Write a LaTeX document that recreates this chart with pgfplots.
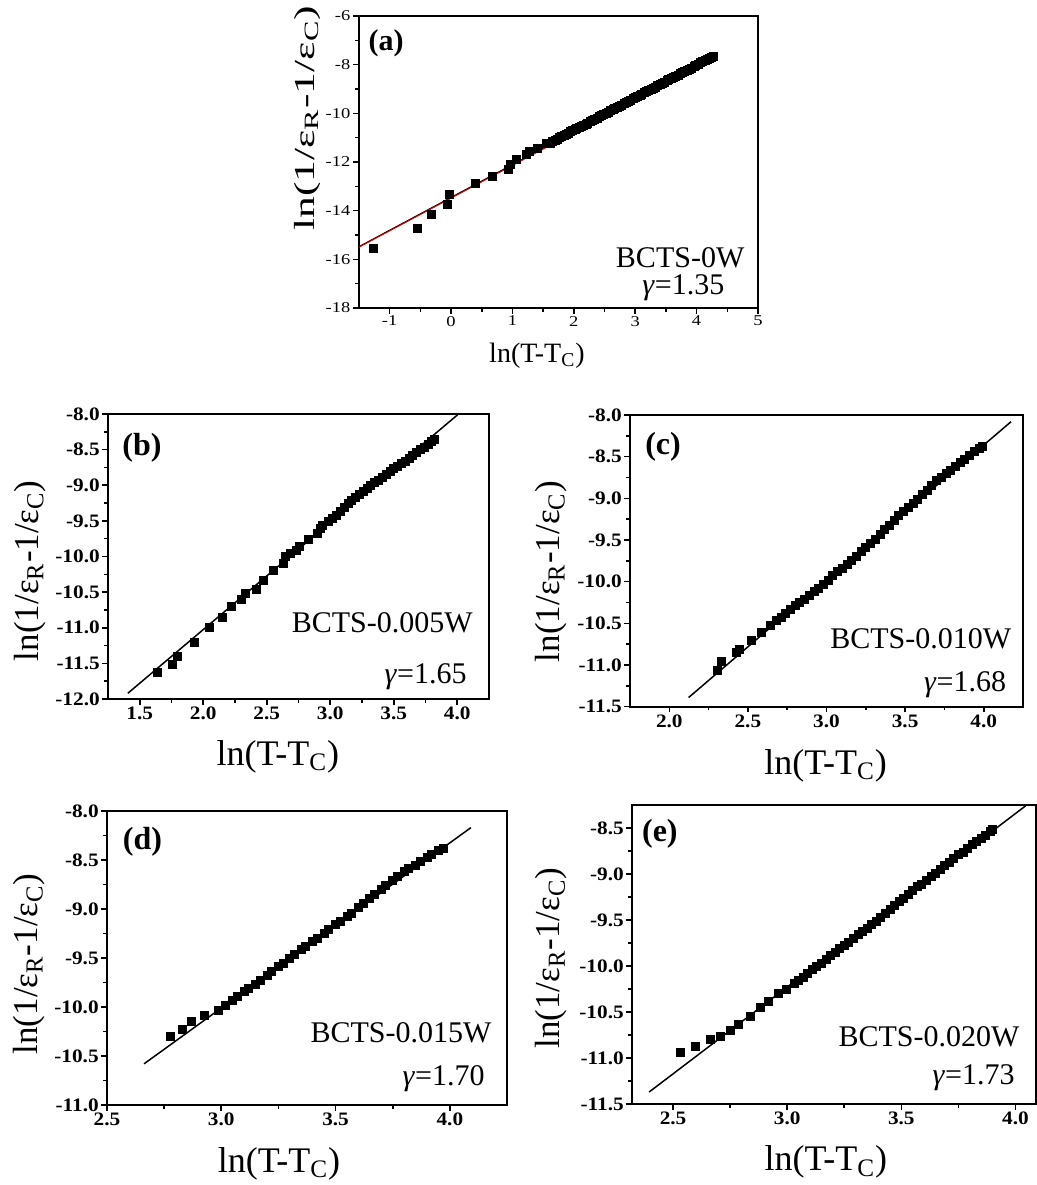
\documentclass[border=0pt]{standalone}
\usepackage{fontspec}
\setmainfont{Liberation Serif}
\usepackage{pgfplots}
\pgfplotsset{compat=1.18}

\pgfplotsset{
  panel/.style={
    scale only axis, anchor=south west, clip=true,
    axis line style={line width=1pt},
    tick align=outside, tick pos=left,
    major tick length=2.8pt, minor tick length=1.8pt,
    every tick/.style={black, line width=0.8pt},
    minor x tick num=1, minor y tick num=1,
    /pgf/number format/assume math mode=true,
    tick label style={font=\fontsize{9.5}{10}\selectfont\bfseries, xscale=1.12, inner sep=1pt},
    xticklabel style={/pgf/number format/.cd, fixed, fixed zerofill, precision=1},
    yticklabel style={/pgf/number format/.cd, fixed, fixed zerofill, precision=1},
    xlabel={ln(T-T\textsubscript{C})},
    ylabel={ln(1/ε\textsubscript{R}-1/ε\textsubscript{C})},
  },
  xlab/.style n args={3}{every axis x label/.style={at={(axis description cs:#1,#2)}, anchor=base, font=\fontsize{#3}{#3}\selectfont}},
  ylab/.style n args={3}{every axis y label/.style={at={(axis description cs:#1,#2)}, rotate=90, anchor=center, font=\fontsize{#3}{#3}\selectfont}},
  pts/.style={only marks, mark=square*, mark size=2pt, black},
  fit/.style={black, line width=0.75pt, no marks},
}
\newcommand{\sample}[1]{\fontsize{15}{17}\selectfont #1}
\newcommand{\tag}[1]{\fontsize{16}{18}\selectfont\bfseries #1}
\newcommand{\gam}{\textit{γ}}

\begin{document}
\begin{tikzpicture}
\path[use as bounding box] (0pt,0pt) rectangle (518.5pt,592.5pt);

% ---------------- (a) BCTS-0W ----------------
\begin{axis}[panel, at={(179.5pt,438.5pt)}, width=199.5pt, height=146pt,
  xmin=-1.5, xmax=5, ymin=-18, ymax=-6,
  xtick={-1,0,...,5}, ytick={-18,-16,...,-6},
  tick label style={font=\fontsize{7.5}{8}\selectfont, xscale=1.1},
  xticklabel style={/pgf/number format/.cd, fixed, precision=0},
  yticklabel style={/pgf/number format/.cd, fixed, precision=0},
  xlab={0.446}{-0.185}{14},
  every axis y label/.style={at={(axis description cs:-0.129,0.65)}, rotate=90, xscale=1.5, anchor=center, font=\fontsize{14.5}{15}\selectfont},
  line width=0.5pt]
\addplot[pts] coordinates {
(-1.26,-15.55) (-0.545,-14.73) (-0.327,-14.15) (-0.057,-13.76) (-0.024,-13.33)
(0.393,-12.90) (0.681,-12.58) (0.935,-12.30) (0.963,-12.10) (1.06,-11.89)
(1.234,-11.71) (1.277,-11.58) (1.407,-11.44) (1.548,-11.26)
(1.62,-11.22) (1.66,-11.16) (1.70,-11.10) (1.73,-11.06) (1.77,-11.00)
(1.80,-10.97) (1.84,-10.91) (1.88,-10.85) (1.91,-10.82) (1.95,-10.76)
(1.98,-10.72) (2.02,-10.68) (2.05,-10.63) (2.09,-10.58) (2.12,-10.54)
(2.16,-10.49) (2.20,-10.44) (2.23,-10.40) (2.27,-10.34) (2.31,-10.29)
(2.34,-10.25) (2.38,-10.20) (2.42,-10.14) (2.45,-10.10) (2.49,-10.05)
(2.53,-9.99) (2.56,-9.95) (2.60,-9.90) (2.64,-9.85) (2.67,-9.80)
(2.71,-9.75) (2.75,-9.70) (2.78,-9.66) (2.82,-9.60) (2.86,-9.55)
(2.89,-9.51) (2.93,-9.46) (2.97,-9.40) (3.00,-9.36) (3.04,-9.31)
(3.08,-9.26) (3.11,-9.22) (3.15,-9.16) (3.19,-9.11) (3.22,-9.07)
(3.26,-9.02) (3.30,-8.96) (3.33,-8.92) (3.37,-8.87) (3.41,-8.82)
(3.44,-8.78) (3.48,-8.72) (3.52,-8.67) (3.55,-8.63) (3.59,-8.58)
(3.63,-8.52) (3.66,-8.48) (3.70,-8.43) (3.74,-8.38) (3.77,-8.34)
(3.81,-8.28) (3.85,-8.23) (3.88,-8.19) (3.92,-8.14) (3.96,-8.08)
(3.99,-8.04) (4.03,-7.99) (4.07,-7.93) (4.10,-7.89) (4.14,-7.84)
(4.18,-7.79) (4.21,-7.75) (4.25,-7.70) (4.27,-7.68)
};
\addplot[black, line width=0.6pt, no marks] coordinates {(-1.5,-15.48) (4.27,-7.70)};
\addplot[red!85!black, line width=0.5pt, no marks] coordinates {(-1.5,-15.50) (4.27,-7.75)};
\node[anchor=north west, inner sep=0pt, font=\fontsize{15}{17}\selectfont\bfseries] at (axis description cs:0.023,0.955) {(a)};
\node[anchor=base east, inner sep=0pt, font=\fontsize{15}{17}\selectfont] at (axis description cs:0.967,0.137) {BCTS-0W};
\node[anchor=base east, inner sep=0pt, font=\fontsize{15}{17}\selectfont] at (axis description cs:0.917,0.045) {\gam=1.35};
\end{axis}

% ---------------- (b) BCTS-0.005W ----------------
\begin{axis}[panel, at={(54pt,243pt)}, width=190.5pt, height=142.5pt,
  xmin=1.25, xmax=4.25, ymin=-12, ymax=-8,
  xtick={1.5,2.0,...,4.0}, ytick={-12,-11.5,...,-8},
  xlab={0.446}{-0.232}{18}, ylab={-0.205}{0.45}{17.5}]
\addplot[pts] coordinates {
(1.638,-11.62) (1.758,-11.51) (1.80,-11.40) (1.928,-11.20) (2.05,-11.00)
(2.154,-10.85) (2.219,-10.70) (2.30,-10.60) (2.33,-10.52) (2.415,-10.46)
(2.472,-10.33) (2.553,-10.20) (2.631,-10.09) (2.649,-10.00) (2.69,-9.96)
(2.735,-9.91) (2.76,-9.86) (2.83,-9.76) (2.897,-9.67) (2.92,-9.60)
(2.94,-9.56) (2.988,-9.51)
(3.02,-9.46) (3.05,-9.42) (3.08,-9.37) (3.11,-9.31) (3.14,-9.26)
(3.17,-9.21) (3.20,-9.17) (3.23,-9.13) (3.26,-9.08) (3.29,-9.04)
(3.32,-9.00) (3.35,-8.96) (3.38,-8.93) (3.41,-8.89) (3.44,-8.85)
(3.47,-8.81) (3.50,-8.77) (3.53,-8.73) (3.56,-8.69) (3.59,-8.66)
(3.62,-8.62) (3.65,-8.58) (3.68,-8.54) (3.71,-8.50) (3.74,-8.47)
(3.77,-8.43) (3.80,-8.39) (3.82,-8.36)
};
\addplot[fit] coordinates {(1.406,-11.92) (4.01,-8.0)};
\node[anchor=north west, inner sep=0pt] at (axis description cs:0.037,0.933) {\tag{(b)}};
\node[anchor=base east, inner sep=0pt] at (axis description cs:0.958,0.232) {\sample{BCTS-0.005W}};
\node[anchor=base east, inner sep=0pt] at (axis description cs:0.942,0.056) {\sample{\gam=1.65}};
\end{axis}

% ---------------- (c) BCTS-0.010W ----------------
\begin{axis}[panel, at={(315pt,239.15pt)}, width=196.5pt, height=145.85pt,
  xmin=1.75, xmax=4.25, ymin=-11.5, ymax=-8,
  xtick={2.0,2.5,...,4.0}, ytick={-11.5,-11,...,-8},
  xlab={0.498}{-0.231}{18}, ylab={-0.201}{0.463}{17.5}]
\addplot[pts] coordinates {
(2.308,-11.06) (2.332,-10.96) (2.427,-10.85) (2.449,-10.81) (2.52,-10.71)
(2.585,-10.61) (2.644,-10.52) (2.68,-10.47)
(2.71,-10.43) (2.74,-10.38) (2.77,-10.33) (2.80,-10.29) (2.83,-10.25)
(2.86,-10.21) (2.89,-10.16) (2.92,-10.12) (2.95,-10.08) (2.98,-10.03)
(3.01,-9.98) (3.04,-9.93) (3.07,-9.88) (3.10,-9.84) (3.13,-9.79)
(3.16,-9.74) (3.19,-9.70) (3.22,-9.64) (3.25,-9.59) (3.28,-9.54)
(3.31,-9.49) (3.34,-9.43) (3.37,-9.37) (3.40,-9.32) (3.43,-9.26)
(3.46,-9.21) (3.49,-9.16) (3.52,-9.11) (3.55,-9.06) (3.58,-9.01)
(3.61,-8.95) (3.64,-8.90) (3.67,-8.85) (3.70,-8.79) (3.73,-8.75)
(3.76,-8.70) (3.79,-8.66) (3.82,-8.62) (3.85,-8.57) (3.88,-8.53)
(3.91,-8.48) (3.94,-8.44) (3.97,-8.40) (3.99,-8.38)
};
\addplot[fit] coordinates {(2.123,-11.39) (4.174,-8.08)};
\node[anchor=north west, inner sep=0pt] at (axis description cs:0.038,0.942) {\tag{(c)}};
\node[anchor=base east, inner sep=0pt] at (axis description cs:0.971,0.201) {\sample{BCTS-0.010W}};
\node[anchor=base east, inner sep=0pt] at (axis description cs:0.958,0.051) {\sample{\gam=1.68}};
\end{axis}

% ---------------- (d) BCTS-0.015W ----------------
\begin{axis}[panel, at={(53.5pt,40pt)}, width=200pt, height=147pt,
  xmin=2.5, xmax=4.25, ymin=-11, ymax=-8,
  xtick={2.5,3.0,...,4.0}, ytick={-11,-10.5,...,-8},
  xlab={0.43}{-0.228}{18}, ylab={-0.195}{0.48}{17.5}]
\addplot[pts] coordinates {
(2.779,-10.30) (2.831,-10.23) (2.87,-10.15) (2.924,-10.09) (2.987,-10.03)
(3.02,-9.98) (3.05,-9.93) (3.07,-9.89) (3.10,-9.84) (3.12,-9.81)
(3.15,-9.77) (3.17,-9.73) (3.20,-9.68) (3.22,-9.64) (3.25,-9.59)
(3.27,-9.56) (3.30,-9.50) (3.32,-9.46) (3.35,-9.41) (3.37,-9.38)
(3.40,-9.33) (3.42,-9.30) (3.45,-9.25) (3.47,-9.21) (3.50,-9.16)
(3.52,-9.13) (3.55,-9.08) (3.57,-9.04) (3.60,-8.98) (3.62,-8.94)
(3.65,-8.89) (3.67,-8.85) (3.70,-8.80) (3.72,-8.76) (3.75,-8.71)
(3.77,-8.67) (3.80,-8.62) (3.82,-8.59) (3.85,-8.55) (3.87,-8.51)
(3.90,-8.47) (3.92,-8.44) (3.95,-8.40) (3.97,-8.38)
};
\addplot[fit] coordinates {(2.662,-10.58) (4.092,-8.17)};
\node[anchor=north west, inner sep=0pt] at (axis description cs:0.039,0.947) {\tag{(d)}};
\node[anchor=base east, inner sep=0pt] at (axis description cs:0.962,0.211) {\sample{BCTS-0.015W}};
\node[anchor=base east, inner sep=0pt] at (axis description cs:0.945,0.068) {\sample{\gam=1.70}};
\end{axis}

% ---------------- (e) BCTS-0.020W ----------------
\begin{axis}[panel, at={(316pt,40.5pt)}, width=202pt, height=149.5pt,
  xmin=2.32, xmax=4.09, ymin=-11.5, ymax=-8.25,
  xtick={2.5,3.0,...,4.0}, ytick={-11.5,-11,...,-8.5},
  xlab={0.48}{-0.224}{18}, ylab={-0.2}{0.488}{17.5}]
\addplot[pts] coordinates {
(2.534,-10.94) (2.596,-10.87) (2.665,-10.80) (2.706,-10.76) (2.752,-10.70)
(2.786,-10.63) (2.837,-10.55) (2.881,-10.45) (2.917,-10.38) (2.961,-10.30)
(2.997,-10.25)
(3.03,-10.19) (3.05,-10.16) (3.07,-10.12) (3.09,-10.08) (3.11,-10.04)
(3.13,-10.00) (3.15,-9.97) (3.17,-9.93) (3.19,-9.89) (3.21,-9.85)
(3.23,-9.81) (3.25,-9.78) (3.27,-9.74) (3.29,-9.70) (3.31,-9.66)
(3.33,-9.62) (3.35,-9.59) (3.37,-9.55) (3.39,-9.51) (3.41,-9.47)
(3.43,-9.43) (3.45,-9.39) (3.47,-9.34) (3.49,-9.30) (3.51,-9.26)
(3.53,-9.22) (3.55,-9.18) (3.57,-9.14) (3.59,-9.11) (3.61,-9.07)
(3.63,-9.03) (3.65,-8.99) (3.67,-8.95) (3.69,-8.91) (3.71,-8.87)
(3.73,-8.83) (3.75,-8.79) (3.77,-8.76) (3.79,-8.72) (3.81,-8.68)
(3.83,-8.65) (3.85,-8.61) (3.87,-8.58) (3.89,-8.54) (3.90,-8.52)
};
\addplot[fit] coordinates {(2.395,-11.37) (4.044,-8.26)};
\node[anchor=north west, inner sep=0pt] at (axis description cs:0.024,0.953) {\tag{(e)}};
\node[anchor=base east, inner sep=0pt] at (axis description cs:0.960,0.192) {\sample{BCTS-0.020W}};
\node[anchor=base east, inner sep=0pt] at (axis description cs:0.948,0.064) {\sample{\gam=1.73}};
\end{axis}
\end{tikzpicture}
\end{document}
